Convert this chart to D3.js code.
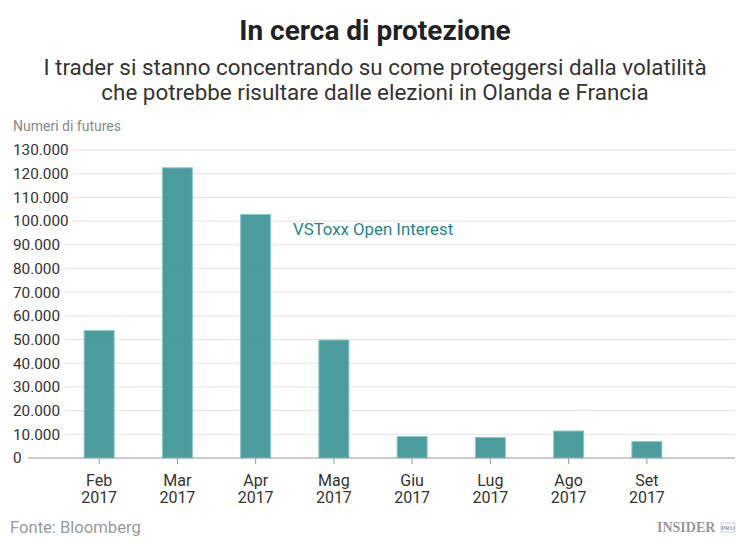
<!DOCTYPE html>
<html>
<head>
<meta charset="utf-8">
<script src="https://cdn.jsdelivr.net/npm/d3@7"></script>
<style>
  body { margin: 0; background: #fff; }
  text { font-family: Roboto, "Noto Sans", sans-serif; }
  text.logo { font-family: "Liberation Serif", "DejaVu Serif", serif; font-weight: bold; }
</style>
</head>
<body>
<div id="chart"></div>
<script>
var months = ['Feb', 'Mar', 'Apr', 'Mag', 'Giu', 'Lug', 'Ago', 'Set'];
var years = ['2017', '2017', '2017', '2017', '2017', '2017', '2017', '2017'];
var openInterest = [53800, 122500, 102800, 49800, 9100, 8700, 11400, 7000];
var yTicks = [0, 10000, 20000, 30000, 40000, 50000, 60000, 70000, 80000, 90000, 100000, 110000, 120000, 130000];

var width = 750, height = 544;
var plotLeft = 28, plotRight = 735, plotTop = 150, plotBottom = 458;

var svg = d3.select('#chart').append('svg')
  .attr('width', width)
  .attr('height', height);

var fmt = d3.formatLocale({ decimal: ',', thousands: '.', grouping: [3], currency: ['€', ''] }).format(',');

var x = d3.scaleBand()
  .domain(months)
  .range([60, 686])
  .paddingInner(0.616)
  .paddingOuter(0.308);

var y = d3.scaleLinear()
  .domain([0, 130000])
  .range([plotBottom, plotTop]);

// titles
svg.append('text')
  .attr('x', width / 2).attr('y', 40)
  .attr('text-anchor', 'middle')
  .attr('font-size', 28).attr('font-weight', 'bold')
  .attr('fill', '#222')
  .text('In cerca di protezione');

var sub = ['I trader si stanno concentrando su come proteggersi dalla volatilità',
           'che potrebbe risultare dalle elezioni in Olanda e Francia'];
svg.selectAll('.sub').data(sub).enter().append('text')
  .attr('class', 'sub')
  .attr('x', width / 2)
  .attr('y', function(d, i) { return 75 + i * 25; })
  .attr('text-anchor', 'middle')
  .attr('font-size', 22.4)
  .attr('fill', '#333')
  .text(function(d) { return d; });

svg.append('text')
  .attr('x', 13).attr('y', 131)
  .attr('font-size', 14)
  .attr('fill', '#888')
  .text('Numeri di futures');

// y grid + labels
var tick = svg.selectAll('.ytick').data(yTicks).enter().append('g')
  .attr('class', 'ytick')
  .attr('transform', function(d) { return 'translate(0,' + y(d) + ')'; });

tick.append('text')
  .attr('x', 13).attr('dy', '0.35em')
  .attr('font-size', 15.3)
  .attr('fill', '#333')
  .text(function(d) { return fmt(d); });

tick.each(function(d) {
  if (d === 0) return;
  var g = d3.select(this);
  var w = g.select('text').node().getComputedTextLength();
  g.append('line')
    .attr('x1', 13 + w + 5).attr('x2', plotRight)
    .attr('stroke', '#e3e3e3').attr('stroke-width', 1);
});

// bars
svg.selectAll('.bar').data(openInterest).enter().append('rect')
  .attr('class', 'bar')
  .attr('x', function(d, i) { return x(months[i]); })
  .attr('width', x.bandwidth())
  .attr('y', function(d) { return y(d); })
  .attr('height', function(d) { return y(0) - y(d); })
  .attr('fill', '#3f9496')
  .attr('fill-opacity', 0.93)
  .attr('stroke', '#8fcacb')
  .attr('stroke-width', 1);

// x axis
svg.append('line')
  .attr('x1', plotLeft).attr('x2', plotRight)
  .attr('y1', plotBottom).attr('y2', plotBottom)
  .attr('stroke', '#999').attr('stroke-width', 1);

var xt = svg.selectAll('.xtick').data(months).enter().append('g')
  .attr('class', 'xtick')
  .attr('transform', function(d) { return 'translate(' + (x(d) + x.bandwidth() / 2) + ',0)'; });

xt.append('line')
  .attr('y1', plotBottom).attr('y2', plotBottom + 6)
  .attr('stroke', '#999');

xt.append('text')
  .attr('y', 486)
  .attr('text-anchor', 'middle')
  .attr('font-size', 16)
  .attr('fill', '#333')
  .text(function(d) { return d; });

xt.append('text')
  .attr('y', 502.5)
  .attr('text-anchor', 'middle')
  .attr('font-size', 16)
  .attr('fill', '#333')
  .text(function(d, i) { return years[i]; });

// series label
svg.append('text')
  .attr('x', 293).attr('y', 235)
  .attr('font-size', 16.8)
  .attr('fill', '#1f8587')
  .text('VSToxx Open Interest');

// footer
svg.append('text')
  .attr('x', 10).attr('y', 533)
  .attr('font-size', 16.6)
  .attr('fill', '#999')
  .text('Fonte: Bloomberg');

var logo = svg.append('g').attr('transform', 'translate(657,532)');
logo.append('text')
  .attr('class', 'logo')
  .attr('font-size', 14)
  .attr('fill', '#999')
  .text('INSIDER');
logo.append('rect')
  .attr('x', 64).attr('y', -9).attr('width', 14).attr('height', 9)
  .attr('fill', 'none').attr('stroke', '#aaa').attr('stroke-width', 0.6);
logo.append('text')
  .attr('class', 'logo')
  .attr('x', 71).attr('y', -2)
  .attr('text-anchor', 'middle')
  .attr('font-size', 6.5)
  .attr('fill', '#999')
  .text('PRO');
</script>
</body>
</html>
